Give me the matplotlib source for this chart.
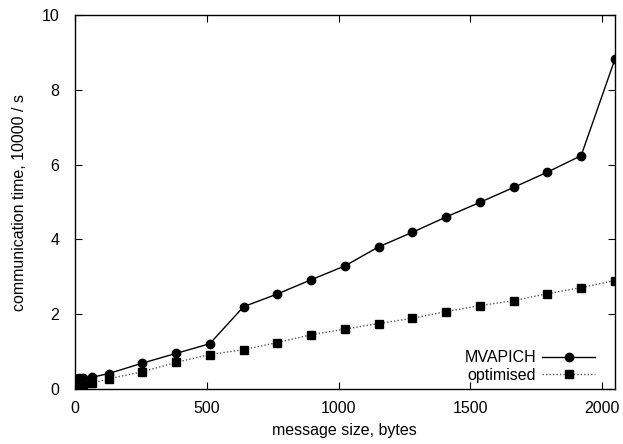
import matplotlib
matplotlib.use("Agg")
import matplotlib.pyplot as plt

# message sizes (bytes)
sizes = [1, 2, 4, 8, 16, 32, 64, 128, 256, 384, 512, 640, 768, 896, 1024,
         1152, 1280, 1408, 1536, 1664, 1792, 1920, 2048]

# communication time, 10000 / s
mvapich = [0.25, 0.26, 0.27, 0.27, 0.28, 0.29, 0.31, 0.41, 0.69, 0.95, 1.21,
           2.20, 2.54, 2.92, 3.29, 3.80, 4.19, 4.60, 4.99, 5.39, 5.80, 6.24, 8.82]
optimised = [0.03, 0.04, 0.05, 0.06, 0.08, 0.10, 0.15, 0.27, 0.46, 0.71, 0.92,
             1.05, 1.24, 1.45, 1.60, 1.75, 1.89, 2.07, 2.23, 2.36, 2.55, 2.71, 2.90]

xticks = [0, 500, 1000, 1500, 2000]
yticks = [0, 2, 4, 6, 8, 10]

plt.rcParams["font.family"] = ["Liberation Sans", "DejaVu Sans"]
plt.rcParams["font.size"] = 11.5

fig = plt.figure(figsize=(6.23, 4.44), dpi=100)
ax = fig.add_axes([0.120, 0.124, 0.867, 0.842])

ax.plot(sizes, mvapich, color="black", linewidth=1.0, marker="o",
        markersize=6, label="MVAPICH")
ax.plot(sizes, optimised, color="#555555", linewidth=1.0, linestyle=(0, (1, 1.5)),
        marker="s", markersize=6, markerfacecolor="black", markeredgecolor="black",
        label="optimised")

ax.set_xlim(0, 2048)
ax.set_ylim(0, 10)
ax.set_xticks(xticks)
ax.set_yticks(yticks)
ax.tick_params(direction="in", top=True, right=True, length=5, width=0.8)
ax.tick_params(axis="y", pad=11)
ax.tick_params(axis="x", pad=9)
for s in ax.spines.values():
    s.set_linewidth(1.0)

ax.set_xlabel("message size, bytes", va="center")
ax.set_ylabel("communication time, 10000 / s", va="center")
ax.xaxis.set_label_coords(0.5, -0.11)
ax.yaxis.set_label_coords(-0.102, 0.5)

ax.legend(loc="lower right", frameon=False, markerfirst=False, handlelength=3.3,
          labelspacing=0.15, borderaxespad=0.0, handletextpad=0.4,
          bbox_to_anchor=(0.975, 0.0))

fig.savefig("out.png", dpi=100)
